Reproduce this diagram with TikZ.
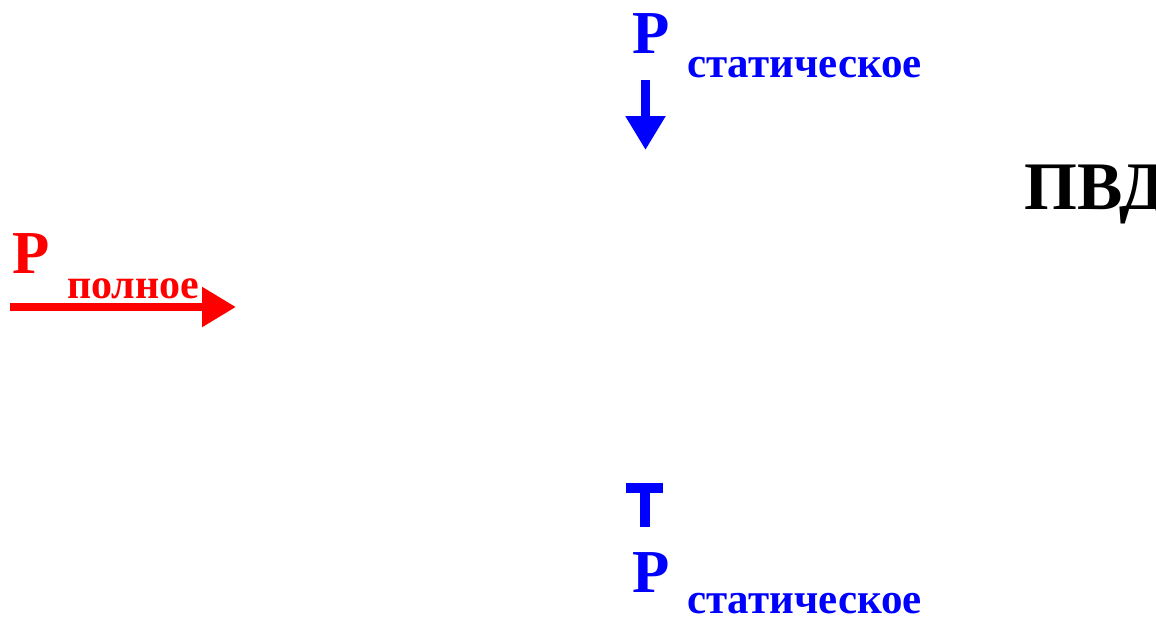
\documentclass[tikz,border=0pt]{standalone}
\usepackage{fontspec}
\setmainfont{Liberation Serif}
\usetikzlibrary{arrows.meta}
\begin{document}
\begin{tikzpicture}[x=1pt,y=-1pt,
  lbl/.style={inner sep=0pt, anchor=base west, font=\bfseries},
  big/.style={lbl, font=\fontsize{61}{61}\selectfont\bfseries},
  sub/.style={lbl, font=\fontsize{43}{43}\selectfont\bfseries},
  flow/.style={line width=8.5pt, -{Triangle[length=34pt,width=38pt]}}]
  \useasboundingbox (0,0) rectangle (1156,619);

  % static pressure, top
  \node[big, text=blue] (ptop) at (632,53) {P};
  \node[sub, text=blue] (stop) at (687,77) {статическое};
  \coordinate (atop0) at (645.5,80);
  \coordinate (atop1) at (645.5,150);
  \draw[flow, blue] (atop0) -- (atop1);

  % high-pressure heater label
  \node[lbl, font=\fontsize{68}{68}\selectfont\bfseries] (pvd) at (1024,209) {ПВД};

  % total pressure, left
  \node[big, text=red] (pfull) at (12,273) {P};
  \node[lbl, font=\fontsize{42}{42}\selectfont\bfseries, text=red] (sfull) at (67,298) {полное};
  \coordinate (afull0) at (10,307);
  \coordinate (afull1) at (236,307);
  \draw[flow, red] (afull0) -- (afull1);

  % static pressure, bottom
  \fill[blue] (626,483) rectangle (663,493);
  \fill[blue] (639.5,483) rectangle (649.5,527);
  \node[big, text=blue] (pbot) at (632,592) {P};
  \node[sub, text=blue] (sbot) at (687,613) {статическое};
\end{tikzpicture}
\end{document}
